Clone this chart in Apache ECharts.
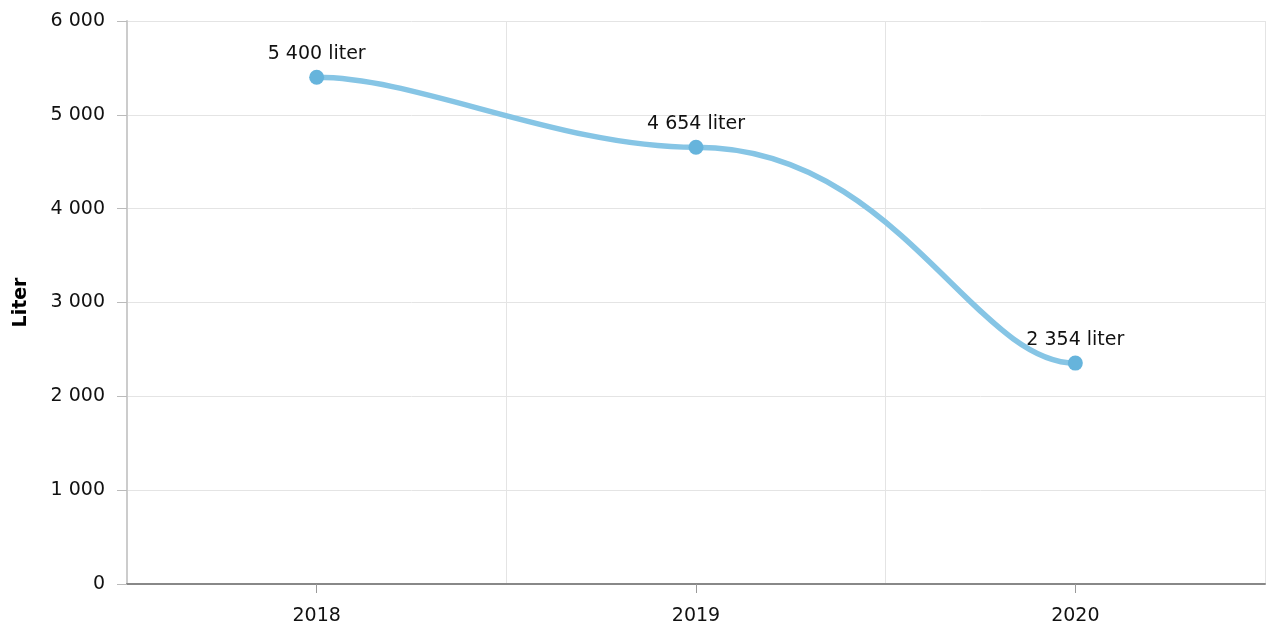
<!DOCTYPE html>
<html>
<head>
<meta charset="utf-8">
<script src="https://cdn.jsdelivr.net/npm/echarts@6/dist/echarts.min.js"></script>
<style>html,body{margin:0;padding:0;background:#fff;}#c{width:1267px;height:628px;}</style>
</head>
<body>
<div id="c"></div>
<script>
const categories = ['2018', '2019', '2020'];
const values = [5400, 4654, 2354];
const yTicks = [0, 1000, 2000, 3000, 4000, 5000, 6000];
const yName = 'Liter';
const unit = 'liter';

// curve shape (flat tangents, handle lengths as fraction of category step)
const ARM_END = 0.27, ARM_IN = 0.36, ARM_OUT = 0.53;

function fmt(v) {
  return String(v).replace(/\B(?=(\d{3})+(?!\d))/g, ' ');
}

const chart = echarts.init(document.getElementById('c'), null, {renderer: 'canvas'});
chart.setOption({
  animation: false,
  textStyle: {fontFamily: 'DejaVu Sans'},
  grid: {left: 127, right: 2, top: 21, bottom: 44, outerBoundsMode: 'none', containLabel: false},
  xAxis: {
    type: 'category',
    data: categories,
    boundaryGap: true,
    axisLine: {show: true, lineStyle: {color: '#888', width: 2}},
    axisTick: {show: true, alignWithLabel: true, length: 9, lineStyle: {color: '#999'}},
    axisLabel: {color: '#111', fontSize: 19, margin: 23, fontFamily: 'DejaVu Sans'},
    splitLine: {show: true, lineStyle: {color: '#e4e4e4', width: 1}}
  },
  yAxis: {
    type: 'value',
    min: yTicks[0],
    max: yTicks[yTicks.length - 1],
    interval: 1000,
    name: yName,
    nameLocation: 'middle',
    nameGap: 96,
    nameTextStyle: {fontWeight: 'bold', fontSize: 19, color: '#000', fontFamily: 'DejaVu Sans'},
    axisLine: {show: true, lineStyle: {color: '#ccc', width: 2}},
    axisTick: {show: true, length: 10, lineStyle: {color: '#bbb'}},
    axisLabel: {color: '#111', fontSize: 19, margin: 22, fontFamily: 'DejaVu Sans', formatter: v => fmt(v)},
    splitLine: {show: true, lineStyle: {color: '#e4e4e4', width: 1}}
  },
  series: [{
    type: 'custom',
    z: 2,
    silent: true,
    data: values.map((v, i) => [i, v]),
    renderItem: function (params, api) {
      const i = params.dataIndex;
      const n = values.length;
      if (i >= n - 1) return {type: 'group', children: []};
      const p0 = api.coord([i, values[i]]);
      const p1 = api.coord([i + 1, values[i + 1]]);
      const h = p1[0] - p0[0];
      const a = (i === 0 ? ARM_END : ARM_OUT) * h;
      const b = (i + 1 === n - 1 ? ARM_END : ARM_IN) * h;
      return {
        type: 'bezierCurve',
        shape: {x1: p0[0], y1: p0[1], x2: p1[0], y2: p1[1],
                cpx1: p0[0] + a, cpy1: p0[1], cpx2: p1[0] - b, cpy2: p1[1]},
        style: {stroke: '#86c5e5', lineWidth: 5.5, fill: null, lineCap: 'round'}
      };
    }
  }, {
    type: 'line',
    z: 3,
    data: values,
    symbol: 'circle',
    symbolSize: 15,
    itemStyle: {color: '#66b4dc'},
    lineStyle: {width: 0, opacity: 0},
    label: {
      show: true,
      position: 'top',
      distance: 6,
      color: '#111',
      fontSize: 19,
      fontFamily: 'DejaVu Sans',
      formatter: p => fmt(p.value) + ' ' + unit
    }
  }]
});
</script>
</body>
</html>
